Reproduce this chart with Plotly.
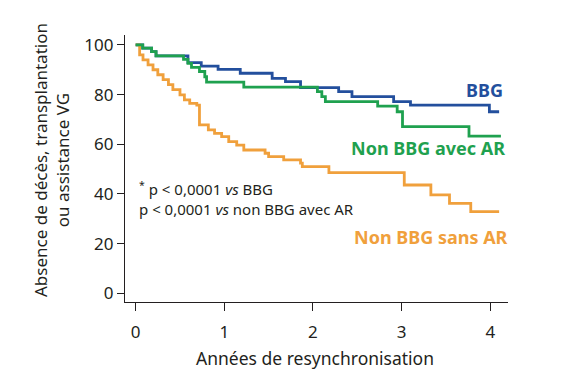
import plotly.graph_objects as go

# Kaplan-Meier style step curves (years, % free of event)
bbg_x = [0, 0.08, 0.18, 0.23, 0.59, 0.74, 0.93, 1.18, 1.54, 1.69, 1.86, 2.29, 2.44, 2.91, 3.10, 3.99, 4.10]
bbg_y = [100, 98.7, 97.3, 95.6, 92.9, 91.5, 90.2, 88.6, 86.5, 85.2, 82.8, 81.2, 79.2, 77.2, 75.8, 73.1, 73.1]

avec_x = [0, 0.08, 0.18, 0.23, 0.54, 0.59, 0.63, 0.72, 0.78, 0.80, 1.22, 2.05, 2.10, 2.14, 2.73, 2.95, 3.01, 3.76, 4.12]
avec_y = [100, 98.7, 97.3, 95.6, 94.2, 92.6, 91.0, 89.3, 87.2, 85.0, 83.0, 81.2, 79.2, 77.2, 75.4, 73.1, 67.1, 63.3, 63.3]

sans_x = [0, 0.045, 0.083, 0.14, 0.196, 0.25, 0.31, 0.37, 0.42, 0.50, 0.55, 0.61, 0.69, 0.72, 0.82, 0.89, 0.97, 1.05, 1.14, 1.22,
          1.46, 1.50, 1.67, 1.86, 1.88, 2.18, 3.03, 3.33, 3.54, 3.78, 4.10]
sans_y = [100, 96.0, 94.0, 92.0, 90.0, 88.0, 86.0, 84.0, 82.0, 79.9, 77.9, 76.5, 75.8, 67.8, 65.8, 64.4, 63.1, 61.1, 59.7, 57.7,
          56.4, 55.0, 53.7, 52.4, 51.0, 48.6, 43.6, 39.6, 36.2, 32.9, 32.9]

x_ticks = [0, 1, 2, 3, 4]
y_ticks = [0, 20, 40, 60, 80, 100]

BLUE = "#234f9d"
GREEN = "#1fa14f"
ORANGE = "#f0a03c"
TXT = "#231f20"
FONT = "Noto Sans"

fig = go.Figure()
fig.add_trace(go.Scatter(x=bbg_x, y=bbg_y, mode="lines", line=dict(color=BLUE, width=2.8, shape="hv")))
fig.add_trace(go.Scatter(x=sans_x, y=sans_y, mode="lines", line=dict(color=ORANGE, width=2.8, shape="hv")))
fig.add_trace(go.Scatter(x=avec_x, y=avec_y, mode="lines", line=dict(color=GREEN, width=2.8, shape="hv")))

fig.update_layout(
    width=567, height=375,
    margin=dict(l=125, r=59, t=35, b=73),
    paper_bgcolor="white", plot_bgcolor="white",
    showlegend=False,
    font=dict(family=FONT, color=TXT, size=14),
    xaxis=dict(range=[-0.12, 4.2], tickvals=x_ticks, ticks="outside", ticklen=8, tickwidth=1.3,
               tickcolor=TXT, showline=True, linecolor=TXT, linewidth=1.3, showgrid=False, zeroline=False,
               ticklabelstandoff=6,
               tickfont=dict(size=17, color=TXT, family=FONT)),
    yaxis=dict(range=[-3.5, 104], tickvals=y_ticks, ticks="outside", ticklen=7, tickwidth=1.3,
               tickcolor=TXT, showline=True, linecolor=TXT, linewidth=1.3, showgrid=False, zeroline=False,
               tickfont=dict(size=17, color=TXT, family=FONT)),
)

ann = []
ann.append(dict(text="Années de resynchronisation", xref="paper", yref="paper", x=(315 - 125) / 383, y=-(358 - 302) / 267,
                showarrow=False, font=dict(size=17.5, color=TXT, family=FONT), xanchor="center", yanchor="middle"))
ann.append(dict(text="Absence de décès, transplantation<br>ou assistance VG", xref="paper", yref="paper",
                x=(51 - 125) / 383, y=(302 - 160) / 267, align="center",
                showarrow=False, textangle=-90, font=dict(size=17, color=TXT, family=FONT), xanchor="center", yanchor="middle"))
ann.append(dict(text="<b>BBG</b>", x=3.94, y=81.9, showarrow=False, font=dict(size=18, color=BLUE, family=FONT),
                xanchor="center", yanchor="middle"))
ann.append(dict(text="<b>Non BBG avec AR</b>", x=3.30, y=58.5, showarrow=False, font=dict(size=18, color=GREEN, family=FONT),
                xanchor="center", yanchor="middle"))
ann.append(dict(text="<b>Non BBG sans AR</b>", x=3.33, y=22.8, showarrow=False, font=dict(size=18, color=ORANGE, family=FONT),
                xanchor="center", yanchor="middle"))
ann.append(dict(text="<sup>*</sup> p < 0,0001 <i>vs</i> BBG<br>p < 0,0001 <i>vs</i> non BBG avec AR", x=0.02, y=38.0,
                showarrow=False, align="left",
                font=dict(size=15, color=TXT, family=FONT), xanchor="left", yanchor="middle"))
fig.update_layout(annotations=ann)

fig.write_html("out.html", config={"displayModeBar": False},
               post_script="document.body.style.margin='0';document.body.style.overflow='hidden';")
